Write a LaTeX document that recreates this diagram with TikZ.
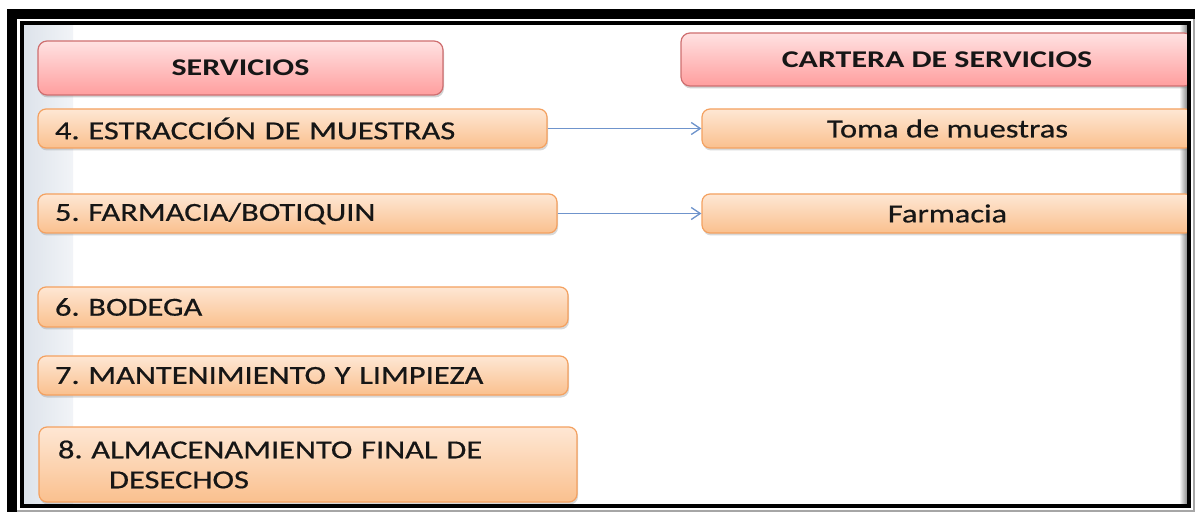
\documentclass[tikz,border=0pt]{standalone}
\usepackage{fontspec}
\setmainfont{Carlito}[FakeStretch=1.25, FakeBold=0.6]
\newfontfamily\headfont{Carlito}[FakeStretch=1.33]
\usetikzlibrary{arrows.meta,shadows}
\definecolor{boxtop}{HTML}{FEE7D4}
\definecolor{boxbot}{HTML}{FAC08E}
\definecolor{boxline}{HTML}{F4A160}
\definecolor{headtop}{HTML}{FFE2E2}
\definecolor{headbot}{HTML}{FF9E9E}
\definecolor{headline}{HTML}{CF6F70}
\definecolor{arrowblue}{HTML}{6F94CC}
\definecolor{stripblue}{HTML}{DDE3EB}
\definecolor{textdark}{HTML}{161616}
\frenchspacing

\begin{document}
\begin{tikzpicture}[x=1pt, y=-1pt,
  head/.style={rounded corners=9pt, draw=headline, line width=1.2pt, top color=headtop, bottom color=headbot,
    text=textdark, font=\headfont\bfseries\fontsize{24}{28}\selectfont, inner sep=0pt,
    drop shadow={shadow xshift=1pt, shadow yshift=-2.5pt, opacity=0.35}},
  item/.style={rounded corners=8pt, draw=boxline, line width=1.2pt, top color=boxtop, bottom color=boxbot,
    text=textdark, font=\fontsize{26}{30}\selectfont, inner xsep=17pt, inner ysep=0pt,
    drop shadow={shadow xshift=1pt, shadow yshift=-2.5pt, opacity=0.3}},
  link/.style={draw=arrowblue, line width=1.3pt, -{Straight Barb[length=9pt,width=12pt]}}]
\useasboundingbox (0,0) rectangle (1196,518);
\fill[white] (0,0) rectangle (1196,518);

\begin{scope}
\clip (24,25) rectangle (1187,503);
\shade[left color=stripblue, right color=stripblue!40] (24,25) rectangle (73,503);
\shade[left color=white, right color=black!45] (1179,25) rectangle (1187,503);

% headers
\node (serv) at (240.5,68) [head, minimum width=405, minimum height=54] {SERVICIOS};
\node (cart) at (937,59.5) [head, minimum width=512, minimum height=53] {CARTERA DE SERVICIOS};

% left column
\node (b4) at (292.5,128.5) [item, text width=475, minimum height=39, align=left] {4. ESTRACCIÓN DE MUESTRAS};
\node (b5) at (297.5,213.5) [item, text width=485, minimum height=39, align=left] {5. FARMACIA/BOTIQUIN};
\node (b6) at (303,307) [item, text width=496, minimum height=40, align=left] {6. BODEGA};
\node (b7) at (303,375.5) [item, text width=496, minimum height=39, align=left] {7. MANTENIMIENTO Y LIMPIEZA};
\node (b8) at (308,464.5) [item, text width=504, minimum height=75, align=left]
  {\hspace*{2pt}8. ALMACENAMIENTO FINAL DE\\\hspace*{53pt}DESECHOS};

% right column
\node (toma) at (947.5,128.5) [item, minimum width=491, minimum height=39] {Toma de muestras};
\node (farm) at (947.5,213.5) [item, minimum width=491, minimum height=39] {Farmacia};

\draw[link] (b4) -- (toma);
\draw[link] (b5) -- (farm);
\end{scope}

% frame
\draw[gray!70, line width=1.5pt] (8,10) rectangle (1194,511);
\fill[black] (7,9) rectangle (1195,19);
\fill[black] (7,9) rectangle (17,512);
\draw[black, line width=4pt] (22,23) rectangle (1189,506);
\end{tikzpicture}
\end{document}
